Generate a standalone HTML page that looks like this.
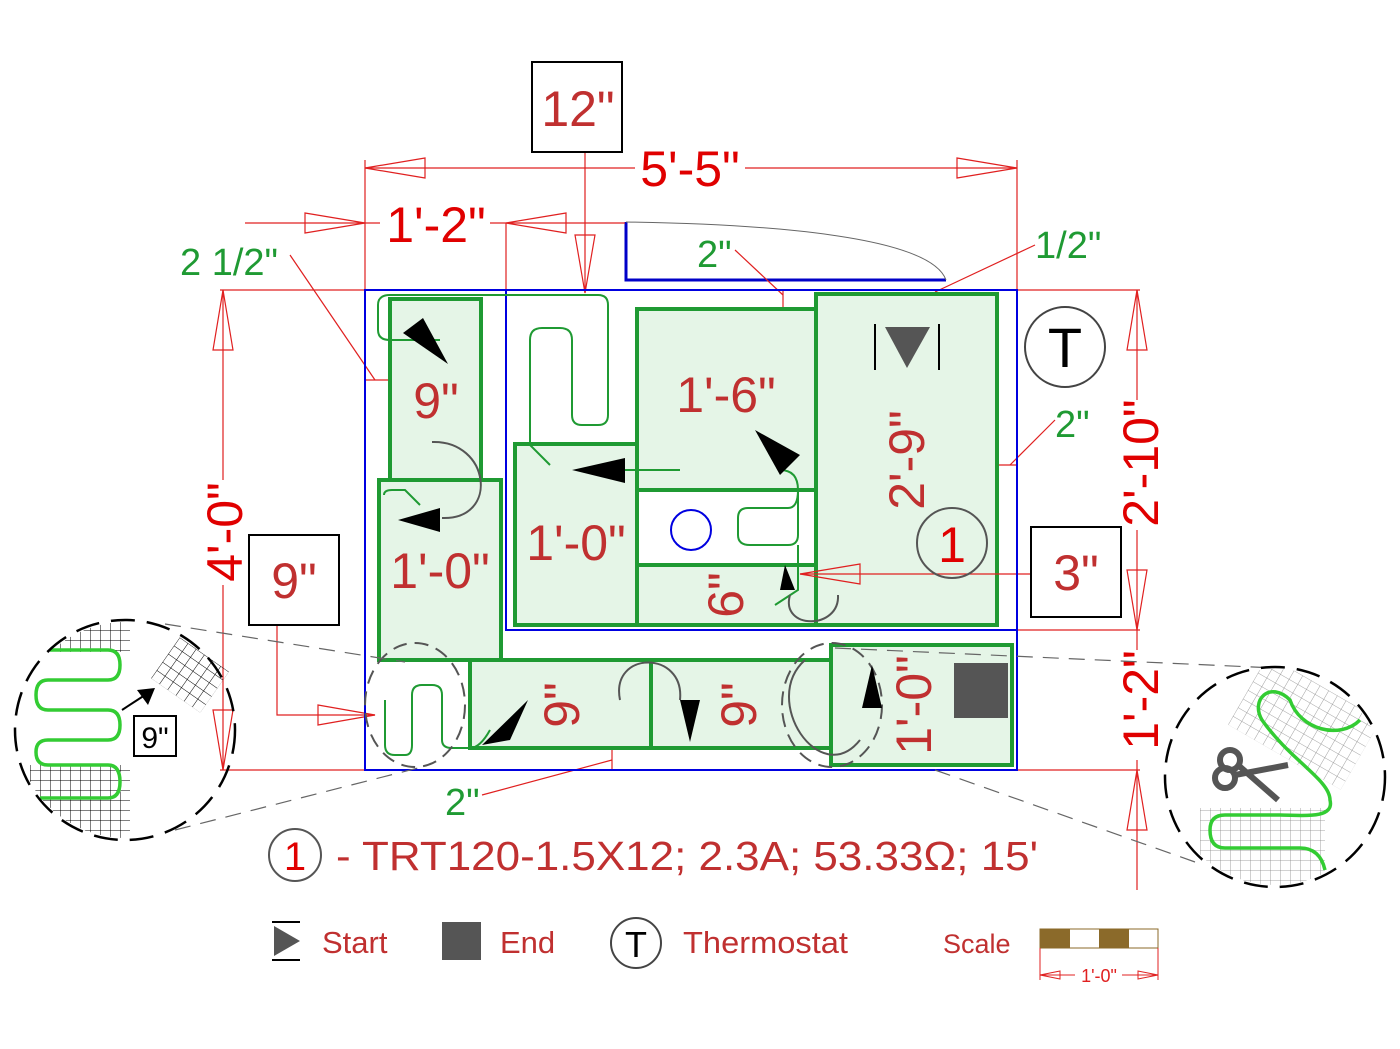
<!DOCTYPE html>
<html><head><meta charset="utf-8"><style>
html,body{margin:0;padding:0;background:#fff;}
svg{display:block;font-family:"Liberation Sans",Arial,sans-serif;}
</style></head><body>
<svg width="1400" height="1049" viewBox="0 0 1400 1049" xmlns="http://www.w3.org/2000/svg">
<defs>
<pattern id="gk" width="10" height="10" patternUnits="userSpaceOnUse"><path d="M0 0H10M0 0V10" stroke="#000" stroke-width="1" fill="none"/></pattern>
<pattern id="gg" width="10" height="10" patternUnits="userSpaceOnUse"><path d="M0 0H10M0 0V10" stroke="#888" stroke-width="0.8" fill="none"/></pattern>
<clipPath id="cl"><circle cx="125" cy="730" r="108"/></clipPath>
<clipPath id="cr"><circle cx="1275" cy="777" r="108"/></clipPath>
</defs>

<!-- door -->
<path d="M626 222 V280 H946" stroke="#0000c8" stroke-width="3" fill="none"/>
<path d="M626 222 C760 224 930 235 946 280" stroke="#666" stroke-width="1" fill="none"/>

<!-- red dimension lines -->
<g stroke="#e02020" stroke-width="1.2" fill="none">
<line x1="365" y1="168" x2="635" y2="168"/><line x1="745" y1="168" x2="1017" y2="168"/>
<line x1="365" y1="160" x2="365" y2="290"/><line x1="1017" y1="160" x2="1017" y2="290"/>
<polygon points="365,168 425,158 425,178"/><polygon points="1017,168 957,158 957,178"/>
<line x1="245" y1="223" x2="380" y2="223"/><line x1="490" y1="223" x2="625" y2="223"/>
<line x1="506" y1="223" x2="506" y2="290"/>
<polygon points="365,223 305,213 305,233"/><polygon points="506,223 566,213 566,233"/>
<line x1="585" y1="152" x2="585" y2="293"/><polygon points="585,293 575,235 595,235"/>
<line x1="220" y1="290" x2="1140" y2="290"/>
<line x1="220" y1="770" x2="1140" y2="770"/>
<line x1="1017" y1="630" x2="1140" y2="630"/>
<line x1="223" y1="290" x2="223" y2="480"/><line x1="223" y1="585" x2="223" y2="770"/>
<polygon points="223,290 213,350 233,350"/><polygon points="223,770 213,710 233,710"/>
<line x1="1137" y1="290" x2="1137" y2="400"/><line x1="1137" y1="530" x2="1137" y2="630"/>
<polygon points="1137,290 1127,350 1147,350"/><polygon points="1137,630 1127,570 1147,570"/>
<line x1="1137" y1="630" x2="1137" y2="650"/><line x1="1137" y1="760" x2="1137" y2="890"/>
<polygon points="1137,770 1127,830 1147,830"/>
<polyline points="277,625 277,715 375,715"/><polygon points="375,715 318,705 318,725"/>
<polyline points="290,255 375,380 375,380"/><line x1="366" y1="380" x2="390" y2="380"/>
<line x1="735" y1="250" x2="783" y2="295"/><line x1="783" y1="290" x2="783" y2="309"/>
<line x1="1035" y1="245" x2="935" y2="292"/>
<line x1="1055" y1="420" x2="1010" y2="465"/><line x1="997" y1="465" x2="1017" y2="465"/>
<line x1="482" y1="795" x2="612" y2="760"/><line x1="612" y1="748" x2="612" y2="770"/>
</g>

<!-- green rooms -->
<g fill="#e5f5e7" stroke="#1f9a33" stroke-width="4">
<rect x="390" y="299" width="91" height="181"/>
<rect x="379" y="480" width="122" height="180"/>
<rect x="515" y="444" width="122" height="181"/>
<rect x="637" y="309" width="179" height="181"/>
<rect x="637" y="490" width="179" height="75" fill="#fff"/>
<rect x="637" y="565" width="179" height="60"/>
<rect x="816" y="294" width="181" height="331"/>
<rect x="470" y="660" width="181" height="88"/>
<rect x="651" y="660" width="180" height="88"/>
<rect x="831" y="645" width="181" height="120"/>
</g>

<!-- 3" leader on top -->
<g stroke="#e02020" stroke-width="1.2" fill="none">
<line x1="1031" y1="574" x2="800" y2="574"/><polygon points="800,574 860,564 860,584"/>
</g>

<!-- blue outline -->
<rect x="365" y="290" width="652" height="480" fill="none" stroke="#0000e0" stroke-width="2"/>
<polyline points="506,290 506,630 1017,630" fill="none" stroke="#0000e0" stroke-width="2"/>
<circle cx="691" cy="530" r="20" fill="none" stroke="#0000e0" stroke-width="2"/>

<!-- cable green thin -->
<g fill="none" stroke="#1f9a33" stroke-width="2">
<path d="M440 340 H390 Q378 340 378 330 V305 Q378 295 390 295 H598 Q608 295 608 305 V415 Q608 425 598 425 H582 Q572 425 572 415 V340 Q572 328 560 328 H542 Q530 328 530 340 V445 L550 465"/>
<path d="M680 470 H620"/>
<path d="M780 470 Q798 470 798 490 V535 Q798 545 788 545 H750 Q738 545 738 535 V518 Q738 508 748 508 H788 Q798 508 798 490"/>
<path d="M798 545 V590 L775 605"/>
<path d="M384 495 Q384 490 392 490 H405 L420 505"/>
<path d="M385 700 V745 Q385 755 395 755 H405 Q412 755 412 745 V695 Q412 685 422 685 H432 Q442 685 442 695 V740 Q442 748 452 748 H470 Q480 748 490 730"/>
</g>

<!-- grey curved arrows / dashed circles -->
<g fill="none" stroke="#555" stroke-width="2">
<path d="M432 442 C490 440 500 520 442 518"/>
<path d="M790 595 C780 630 840 630 838 595"/>
<path d="M620 700 C610 650 685 650 680 700"/>
<path d="M805 660 C760 700 820 790 860 740"/>
</g>
<g fill="none" stroke="#555" stroke-width="2" stroke-dasharray="14,8">
<ellipse cx="415" cy="705" rx="50" ry="62"/>
<ellipse cx="832" cy="705" rx="50" ry="62"/>
</g>

<!-- black arrowheads -->
<g fill="#000">
<polygon points="403,333 423,318 448,364"/>
<polygon points="398,520 440,508 440,532"/>
<polygon points="572,470 625,458 625,483"/>
<polygon points="755,430 800,455 780,475"/>
<polygon points="785,565 780,590 795,590"/>
<polygon points="482,745 528,700 510,740"/>
<polygon points="690,742 680,700 700,700"/>
<polygon points="872,665 862,708 882,708"/>
</g>

<!-- start / end symbols -->
<polygon points="885,327 930,327 907,368" fill="#555"/>
<line x1="875" y1="324" x2="875" y2="370" stroke="#000" stroke-width="2"/>
<line x1="939" y1="324" x2="939" y2="370" stroke="#000" stroke-width="2"/>
<rect x="954" y="663" width="54" height="55" fill="#555"/>

<!-- room labels -->
<g fill="#c03030" font-size="50">
<text x="436" y="418" text-anchor="middle">9"</text>
<text x="440" y="588" text-anchor="middle">1'-0"</text>
<text x="576" y="560" text-anchor="middle">1'-0"</text>
<text x="726" y="412" text-anchor="middle">1'-6"</text>
<text transform="translate(908,460) rotate(-90)" text-anchor="middle" dy="16">2'-9"</text>
<text transform="translate(727,595) rotate(-90)" text-anchor="middle" dy="16">6"</text>
<text transform="translate(563,705) rotate(-90)" text-anchor="middle" dy="16">9"</text>
<text transform="translate(740,705) rotate(-90)" text-anchor="middle" dy="16">9"</text>
<text transform="translate(915,705) rotate(-90)" text-anchor="middle" dy="16">1'-0"</text>
</g>
<circle cx="952" cy="543" r="35" fill="none" stroke="#555" stroke-width="2"/>
<text x="952" y="562" fill="#e00000" font-size="50" text-anchor="middle">1</text>

<!-- thermostat -->
<circle cx="1065" cy="347" r="40" fill="none" stroke="#444" stroke-width="2"/>
<text x="1065" y="367" font-size="56" text-anchor="middle">T</text>

<g fill="#e00000" font-size="50" text-anchor="middle">
<text x="690" y="186">5'-5"</text>
<text x="436" y="242">1'-2"</text>
<text transform="translate(224,532) rotate(-90)" dy="18">4'-0"</text>
<text transform="translate(1140,463) rotate(-90)" dy="18">2'-10"</text>
<text transform="translate(1140,700) rotate(-90)" dy="18">1'-2"</text>
</g>
<g fill="#1f9a33" font-size="38">
<text x="180" y="275">2 1/2"</text>
<text x="697" y="267">2"</text>
<text x="1035" y="258">1/2"</text>
<text x="1055" y="437">2"</text>
<text x="445" y="815">2"</text>
</g>

<!-- boxes -->
<g fill="#fff" stroke="#000" stroke-width="2">
<rect x="532" y="62" width="90" height="90"/>
<rect x="249" y="535" width="90" height="90"/>
<rect x="1031" y="527" width="90" height="90"/>
</g>
<g fill="#c03030" font-size="50" text-anchor="middle">
<text x="578" y="126">12"</text>
<text x="294" y="598">9"</text>
<text x="1076" y="590">3"</text>
</g>

<!-- dashed leader lines to zoom circles -->
<g stroke="#666" stroke-width="1.2" stroke-dasharray="16,10" fill="none">
<line x1="165" y1="624" x2="405" y2="662"/>
<line x1="175" y1="830" x2="418" y2="768"/>
<line x1="835" y1="648" x2="1275" y2="668"/>
<line x1="935" y1="770" x2="1195" y2="862"/>
</g>

<!-- left zoom circle -->
<g clip-path="url(#cl)">
<rect x="50" y="620" width="80" height="32" fill="url(#gk)"/>
<rect x="30" y="765" width="100" height="75" fill="url(#gk)"/>
</g>
<rect x="160" y="650" width="60" height="50" fill="url(#gk)" transform="rotate(35 190 675)"/>
<path d="M50 650 H108 Q120 650 120 665 Q120 680 108 680 H48 Q36 680 36 695 Q36 710 48 710 H108 Q120 710 120 725 Q120 740 108 740 H48 Q36 740 36 752 Q36 765 48 765 H108 Q120 765 120 782 Q120 798 108 798 H40" stroke="#33cc33" stroke-width="3.5" fill="none"/>
<ellipse cx="125" cy="730" rx="110" ry="110" fill="none" stroke="#000" stroke-width="2.5" stroke-dasharray="24,12"/>
<line x1="122" y1="710" x2="145" y2="695" stroke="#000" stroke-width="2"/>
<polygon points="155,688 137,690 148,705" fill="#000"/>
<rect x="134" y="716" width="42" height="40" fill="#fff" stroke="#000" stroke-width="2"/>
<text x="155" y="748" font-size="30" text-anchor="middle">9"</text>

<!-- right zoom circle -->
<g clip-path="url(#cr)">
<rect x="1240" y="680" width="130" height="80" fill="url(#gg)" transform="rotate(30 1300 720)"/>
<rect x="1200" y="808" width="125" height="80" fill="url(#gg)"/>
</g>
<path d="M1360 720 C1340 740 1300 730 1290 700 C1270 680 1250 700 1262 720 C1290 760 1330 780 1330 800 C1335 820 1300 815 1280 815 H1225 Q1210 815 1210 830 Q1210 848 1225 848 H1300 Q1320 848 1325 870" stroke="#33cc33" stroke-width="3.5" fill="none"/>
<ellipse cx="1275" cy="777" rx="110" ry="110" fill="none" stroke="#000" stroke-width="2.5" stroke-dasharray="24,12"/>
<g stroke="#555" stroke-width="6" fill="none">
<circle cx="1230" cy="760" r="10"/><circle cx="1225" cy="778" r="10"/>
<line x1="1238" y1="765" x2="1278" y2="800"/><line x1="1235" y1="775" x2="1288" y2="765"/>
</g>

<!-- spec line -->
<circle cx="295" cy="855" r="26" fill="none" stroke="#555" stroke-width="2"/>
<text x="295" y="870" fill="#e00000" font-size="40" text-anchor="middle">1</text>
<text x="336" y="870" fill="#c03030" font-size="41" textLength="702" lengthAdjust="spacingAndGlyphs">- TRT120-1.5X12; 2.3A; 53.33Ω; 15'</text>

<!-- legend -->
<line x1="272" y1="922" x2="300" y2="922" stroke="#000" stroke-width="2"/>
<line x1="272" y1="960" x2="300" y2="960" stroke="#000" stroke-width="2"/>
<polygon points="274,926 300,941 274,956" fill="#555"/>
<text x="322" y="953" fill="#c03030" font-size="31">Start</text>
<rect x="442" y="922" width="39" height="38" fill="#555"/>
<text x="500" y="953" fill="#c03030" font-size="31">End</text>
<circle cx="636" cy="943" r="25" fill="none" stroke="#444" stroke-width="2"/>
<text x="636" y="957" font-size="36" text-anchor="middle">T</text>
<text x="683" y="953" fill="#c03030" font-size="31" textLength="165" lengthAdjust="spacingAndGlyphs">Thermostat</text>
<text x="943" y="953" fill="#c03030" font-size="27">Scale</text>
<rect x="1040" y="929" width="118" height="19" fill="#fff" stroke="#8b6a2a" stroke-width="1"/>
<rect x="1040" y="929" width="30" height="19" fill="#8b6a2a"/>
<rect x="1099" y="929" width="30" height="19" fill="#8b6a2a"/>
<g stroke="#e02020" stroke-width="1" fill="none">
<line x1="1040" y1="948" x2="1040" y2="980"/><line x1="1158" y1="948" x2="1158" y2="980"/>
<line x1="1040" y1="975" x2="1075" y2="975"/><line x1="1122" y1="975" x2="1158" y2="975"/>
<polygon points="1040,975 1060,971 1060,979"/><polygon points="1158,975 1138,971 1138,979"/>
</g>
<text x="1099" y="982" fill="#e02020" font-size="18" text-anchor="middle">1'-0"</text>
</svg>
</body></html>
